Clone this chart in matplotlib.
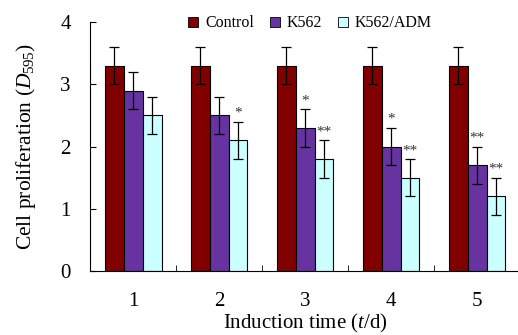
import numpy as np
import matplotlib.pyplot as plt
from matplotlib.lines import Line2D

plt.rcParams["font.family"] = "Liberation Serif"
plt.rcParams["mathtext.fontset"] = "custom"
plt.rcParams["mathtext.rm"] = "Liberation Serif"
plt.rcParams["mathtext.it"] = "Liberation Serif:italic"

days = ["1", "2", "3", "4", "5"]
series = ["Control", "K562", "K562/ADM"]
control = [3.3, 3.3, 3.3, 3.3, 3.3]
k562 = [2.9, 2.5, 2.3, 2.0, 1.7]
k562_adm = [2.5, 2.1, 1.8, 1.5, 1.2]
err_control = [0.3, 0.3, 0.3, 0.3, 0.3]
err_k562 = [0.3, 0.3, 0.3, 0.3, 0.3]
err_adm = [0.3, 0.3, 0.3, 0.3, 0.3]
stars_k562 = ["", "", "*", "*", "**"]
stars_adm = ["", "*", "**", "**", "**"]

colors = ["#800000", "#6633a0", "#ccffff"]

fig = plt.figure(figsize=(5.18, 3.35), dpi=100)
ax = fig.add_axes([0.174, 0.191, 0.83, 0.743])

x = np.arange(1, len(days) + 1)
w = 0.22
vals = [control, k562, k562_adm]
errs = [err_control, err_k562, err_adm]
stars = [None, stars_k562, stars_adm]
for i, (v, e, c) in enumerate(zip(vals, errs, colors)):
    pos = x + (i - 1) * w
    ax.bar(pos, v, w, color=c, edgecolor="black", linewidth=0.8, zorder=2)
    ax.errorbar(pos, v, yerr=e, fmt="none", ecolor="black", elinewidth=0.9,
                capsize=3.5, capthick=0.9, zorder=3)
    if stars[i] is not None:
        for p, top, er, s in zip(pos, v, e, stars[i]):
            if s:
                ax.text(p, top + er + 0.03, s, ha="center", va="bottom", fontsize=11,
                        color="#333333")

ax.set_xlim(0.5, 5.5)
ax.set_ylim(0, 4)
ax.set_yticks([0, 1, 2, 3, 4])
ax.set_xticks(x)
ax.set_xticklabels(days)
ax.set_xticks(np.arange(1.5, 5.5, 1), minor=True)
ax.tick_params(axis="x", which="major", length=0, labelsize=15, pad=15)
ax.tick_params(axis="x", which="minor", direction="in", length=4)
ax.tick_params(axis="y", direction="in", length=4, labelsize=15, pad=14)
for s in ["top", "right"]:
    ax.spines[s].set_visible(False)

ax.set_ylabel(r"Cell proliferation ($D_{595}$)", fontsize=15.5, labelpad=16)
ax.set_xlabel(r"Induction time ($t$/d)", fontsize=15, labelpad=1)

handles = [Line2D([], [], marker="s", linestyle="none", markersize=7,
                  markerfacecolor=c, markeredgecolor="black", markeredgewidth=0.6)
           for c in colors]
fig.legend(handles, series, loc="center", bbox_to_anchor=(0.597, 0.931), ncol=3,
           frameon=False, fontsize=11.5, handlelength=0.8, handletextpad=0.35,
           columnspacing=0.9, borderpad=0)

fig.savefig("out.png", dpi=100)
